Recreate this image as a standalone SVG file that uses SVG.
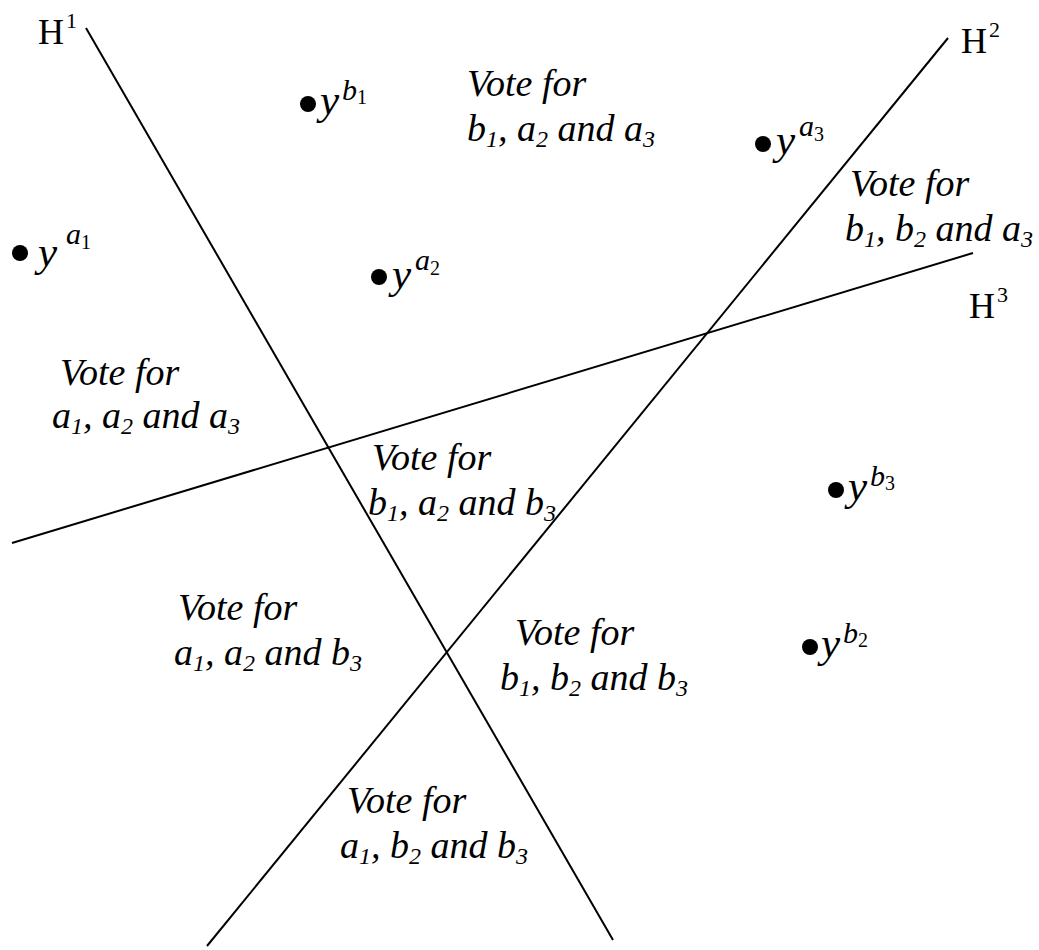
<svg xmlns="http://www.w3.org/2000/svg" width="1039" height="950" viewBox="0 0 1039 950">
<style>
.ln{stroke:#000;stroke-width:2;fill:none}
.dot{fill:#000}
.v{font-family:"Liberation Serif","Times New Roman",serif;font-style:italic;font-size:38px;fill:#000}
.vs{font-size:24px}
.y{font-family:"Liberation Serif","Times New Roman",serif;font-style:italic;font-size:43px;fill:#000}
.ys{font-size:30px}
.yd{font-size:20px;font-style:normal}
.h{font-family:"Liberation Serif","Times New Roman",serif;font-size:36px;fill:#000}
.hs{font-size:22px}
</style>
<rect width="1039" height="950" fill="#fff"/>
<g id="connectors">
<line id="H1-line" class="ln" x1="86" y1="28" x2="613" y2="940"/>
<line id="H2-line" class="ln" x1="948" y1="38" x2="207" y2="946"/>
<line id="H3-line" class="ln" x1="12" y1="543" x2="973" y2="253"/>
</g>
<g id="H1"><text class="h" x="38" y="44">H<tspan class="hs" dx="2" dy="-16">1</tspan></text></g>
<g id="H2"><text class="h" x="961" y="53">H<tspan class="hs" dx="2" dy="-16">2</tspan></text></g>
<g id="H3"><text class="h" x="969" y="318">H<tspan class="hs" dx="2" dy="-16">3</tspan></text></g>

<g id="ya1"><circle class="dot" cx="20" cy="253" r="8"/><text class="y" x="38" y="266">y<tspan class="ys" dx="9" dy="-22">a</tspan><tspan class="yd" dy="5">1</tspan></text></g>
<g id="yb1"><circle class="dot" cx="308" cy="104" r="8"/><text class="y" x="320" y="114">y<tspan class="ys" dx="3" dy="-14">b</tspan><tspan class="yd" dy="4">1</tspan></text></g>
<g id="ya2"><circle class="dot" cx="379" cy="277" r="8"/><text class="y" x="392" y="288">y<tspan class="ys" dx="4" dy="-18">a</tspan><tspan class="yd" dy="5">2</tspan></text></g>
<g id="ya3"><circle class="dot" cx="763" cy="144" r="8"/><text class="y" x="776" y="154">y<tspan class="ys" dx="4" dy="-18">a</tspan><tspan class="yd" dy="5">3</tspan></text></g>
<g id="yb3"><circle class="dot" cx="836" cy="490" r="8"/><text class="y" x="848" y="500">y<tspan class="ys" dx="3" dy="-14">b</tspan><tspan class="yd" dy="4">3</tspan></text></g>
<g id="yb2"><circle class="dot" cx="810" cy="647" r="8"/><text class="y" x="821" y="657">y<tspan class="ys" dx="3" dy="-14">b</tspan><tspan class="yd" dy="4">2</tspan></text></g>

<g id="r1"><text class="v" x="467" y="96">Vote for</text><text class="v" x="467" y="141">b<tspan class="vs" dy="6">1</tspan><tspan dy="-6">, a</tspan><tspan class="vs" dy="6">2</tspan><tspan dy="-6"> and a</tspan><tspan class="vs" dy="6">3</tspan></text></g>
<g id="r2"><text class="v" x="850" y="196">Vote for</text><text class="v" x="845" y="241">b<tspan class="vs" dy="6">1</tspan><tspan dy="-6">, b</tspan><tspan class="vs" dy="6">2</tspan><tspan dy="-6"> and a</tspan><tspan class="vs" dy="6">3</tspan></text></g>
<g id="r3"><text class="v" x="60" y="385">Vote for</text><text class="v" x="52" y="428">a<tspan class="vs" dy="6">1</tspan><tspan dy="-6">, a</tspan><tspan class="vs" dy="6">2</tspan><tspan dy="-6"> and a</tspan><tspan class="vs" dy="6">3</tspan></text></g>
<g id="r4"><text class="v" x="372" y="470">Vote for</text><text class="v" x="368" y="515">b<tspan class="vs" dy="6">1</tspan><tspan dy="-6">, a</tspan><tspan class="vs" dy="6">2</tspan><tspan dy="-6"> and b</tspan><tspan class="vs" dy="6">3</tspan></text></g>
<g id="r5"><text class="v" x="178" y="620">Vote for</text><text class="v" x="174" y="665">a<tspan class="vs" dy="6">1</tspan><tspan dy="-6">, a</tspan><tspan class="vs" dy="6">2</tspan><tspan dy="-6"> and b</tspan><tspan class="vs" dy="6">3</tspan></text></g>
<g id="r6"><text class="v" x="515" y="645">Vote for</text><text class="v" x="500" y="690">b<tspan class="vs" dy="6">1</tspan><tspan dy="-6">, b</tspan><tspan class="vs" dy="6">2</tspan><tspan dy="-6"> and b</tspan><tspan class="vs" dy="6">3</tspan></text></g>
<g id="r7"><text class="v" x="347" y="813">Vote for</text><text class="v" x="340" y="858">a<tspan class="vs" dy="6">1</tspan><tspan dy="-6">, b</tspan><tspan class="vs" dy="6">2</tspan><tspan dy="-6"> and b</tspan><tspan class="vs" dy="6">3</tspan></text></g>
</svg>
